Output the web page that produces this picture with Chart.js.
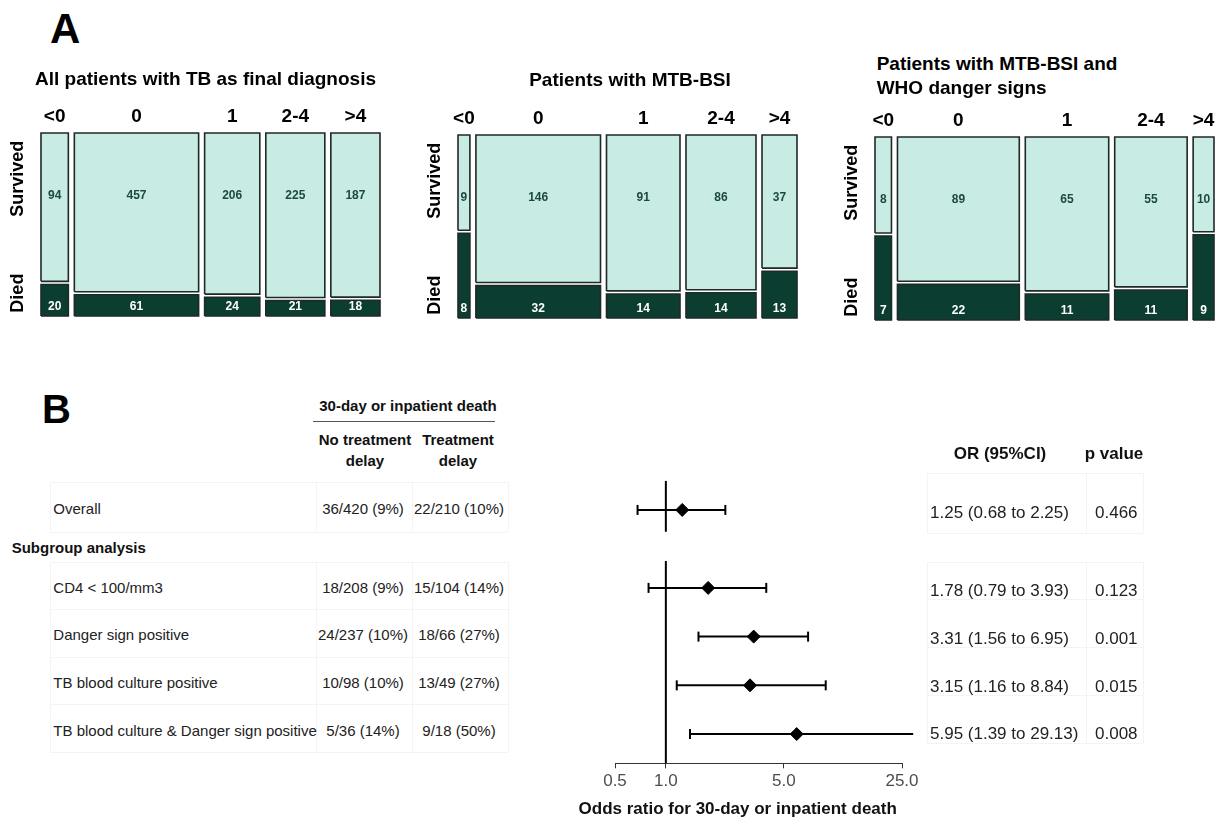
<!DOCTYPE html>
<html>
<head>
<meta charset="utf-8">
<script src="https://cdn.jsdelivr.net/npm/chart.js@4.4.1/dist/chart.umd.min.js"></script>
<style>
  html, body { margin: 0; padding: 0; background: #fff; }
  body { width: 1216px; height: 819px; position: relative; overflow: hidden;
         font-family: "Liberation Sans", Arial, Helvetica, sans-serif; color: #222; }
  canvas { position: absolute; }
  .t { position: absolute; line-height: 1; white-space: nowrap; }
  .rule { position: absolute; }
</style>
</head>
<body>
<canvas id="mosaicAll"></canvas>
<canvas id="mosaicBsi"></canvas>
<canvas id="mosaicDanger"></canvas>
<canvas id="forest"></canvas>
<script>
// ---- panel A data: days of treatment delay vs outcome ----
const delayGroups = ['<0', '0', '1', '2-4', '>4'];
const allSurvived = [94, 457, 206, 225, 187];
const allDied = [20, 61, 24, 21, 18];
const bsiSurvived = [9, 146, 91, 86, 37];
const bsiDied = [8, 32, 14, 14, 13];
const dangerSurvived = [8, 89, 65, 55, 10];
const dangerDied = [7, 22, 11, 11, 9];

// ---- panel B data ----
const subgroups = ['Overall', 'CD4 < 100/mm3', 'Danger sign positive',
  'TB blood culture positive', 'TB blood culture & Danger sign positive'];
const noDelayDeaths = [36, 18, 24, 10, 5];
const noDelayTotal = [420, 208, 237, 98, 36];
const delayDeaths = [22, 15, 18, 13, 9];
const delayTotal = [210, 104, 66, 49, 18];
const oddsRatio = [1.25, 1.78, 3.31, 3.15, 5.95];
const ciLower = [0.68, 0.79, 1.56, 1.16, 1.39];
const ciUpper = [2.25, 3.93, 6.95, 8.84, 29.13];
const pValues = ['0.466', '0.123', '0.001', '0.015', '0.008'];
const orTicks = [0.5, 1, 5, 25];

const FONT = '"Liberation Sans", Arial, Helvetica, sans-serif';
const LIGHT = '#c8ebe3';
const DARK = '#0b3d30';
const EDGE = '#1e2a27';
Chart.defaults.font.family = FONT;

function addText(str, x, y, opt) {
  opt = opt || {};
  const el = document.createElement('div');
  el.className = 't';
  el.textContent = str;
  el.style.left = x + 'px';
  el.style.top = y + 'px';
  el.style.fontSize = (opt.size || 15) + 'px';
  el.style.fontWeight = opt.bold ? 'bold' : 'normal';
  if (opt.color) el.style.color = opt.color;
  const shift = opt.align === 'center' ? '-50%' : (opt.align === 'right' ? '-100%' : '0');
  el.style.transform = 'translate(' + shift + ', -50%)';
  document.body.appendChild(el);
}

function addRule(x, y, w, h, color) {
  const el = document.createElement('div');
  el.className = 'rule';
  el.style.left = x + 'px';
  el.style.top = y + 'px';
  el.style.width = w + 'px';
  el.style.height = h + 'px';
  el.style.background = color;
  document.body.appendChild(el);
}

// column headers, row names and counts of the mosaic plots
const mosaicLabels = {
  id: 'mosaicLabels',
  afterDatasetsDraw(chart, args, opts) {
    const { ctx, chartArea, scales: { x, y } } = chart;
    ctx.save();
    ctx.textAlign = 'center';
    ctx.textBaseline = 'middle';
    opts.cols.forEach(c => {
      const cx = x.getPixelForValue((c.start + c.end) / 2);
      ctx.font = 'bold 19px ' + FONT;
      ctx.fillStyle = '#000';
      ctx.fillText(c.label, cx, chartArea.top - 16);
      ctx.font = 'bold 12px ' + FONT;
      ctx.fillStyle = '#1d4a3e';
      ctx.fillText(String(c.survived), cx, y.getPixelForValue(0.66));
      ctx.fillStyle = '#fff';
      ctx.fillText(String(c.died), cx, y.getPixelForValue(0.05));
    });
    ctx.font = 'bold 18px ' + FONT;
    ctx.fillStyle = '#000';
    [['Survived', 0.75], ['Died', 0.125]].forEach(([t, v]) => {
      ctx.save();
      ctx.translate(chartArea.left - 23, y.getPixelForValue(v));
      ctx.rotate(-Math.PI / 2);
      ctx.fillText(t, 0, 0);
      ctx.restore();
    });
    ctx.restore();
  }
};

function createMosaic(id, plotLeft, plotTop, survived, died) {
  const totals = survived.map((s, i) => s + died[i]);
  const grand = totals.reduce((a, b) => a + b, 0);
  const gap = grand * 6 / 315;   // ~6px between columns
  const vgap = 0.017;            // ~3px between survived and died
  const cols = [];
  let start = 0;
  totals.forEach((n, i) => {
    cols.push({
      start: start, end: start + n,
      split: died[i] / n * (1 - vgap),
      survived: survived[i], died: died[i], label: delayGroups[i]
    });
    start += n + gap;
  });

  const rect = (x0, x1, y0, y1) =>
    [{ x: x0, y: y0 }, { x: x1, y: y0 }, { x: x1, y: y1 }, { x: x0, y: y1 }, { x: x0, y: y0 }];
  const datasets = [];
  cols.forEach(c => {
    datasets.push({ data: rect(c.start, c.end, c.split + vgap, 1), backgroundColor: LIGHT });
    datasets.push({ data: rect(c.start, c.end, 0, c.split), backgroundColor: DARK });
  });
  datasets.forEach(d => {
    d.fill = 'shape';
    d.borderColor = EDGE;
    d.borderWidth = 1.6;
    d.borderJoinStyle = 'miter';
    d.pointRadius = 0;
    d.tension = 0;
    d.clip = false;
  });

  const pad = { left: 45, top: 45, right: 1, bottom: 6 };
  const canvas = document.getElementById(id);
  canvas.width = 339 + pad.left + pad.right;
  canvas.height = 183 + pad.top + pad.bottom;
  canvas.style.left = (plotLeft - pad.left) + 'px';
  canvas.style.top = (plotTop - pad.top) + 'px';

  new Chart(canvas.getContext('2d'), {
    type: 'line',
    data: { datasets: datasets },
    options: {
      responsive: false,
      animation: false,
      events: [],
      layout: { padding: pad },
      scales: {
        x: { type: 'linear', display: false, min: 0, max: start - gap },
        y: { type: 'linear', display: false, min: 0, max: 1 }
      },
      plugins: {
        legend: { display: false },
        tooltip: { enabled: false },
        mosaicLabels: { cols: cols }
      }
    },
    plugins: [mosaicLabels]
  });
}

// ---- Panel A ----
addText('A', 50, 29, { size: 42, bold: true, color: '#000' });
addText('All patients with TB as final diagnosis', 205.5, 78, { size: 19, bold: true, color: '#000', align: 'center' });
addText('Patients with MTB-BSI', 630, 79, { size: 19, bold: true, color: '#000', align: 'center' });
addText('Patients with MTB-BSI and', 876.7, 63, { size: 19, bold: true, color: '#000' });
addText('WHO danger signs', 876.7, 86.7, { size: 19, bold: true, color: '#000' });

createMosaic('mosaicAll', 40.7, 133.3, allSurvived, allDied);
createMosaic('mosaicBsi', 458.3, 135, bsiSurvived, bsiDied);
createMosaic('mosaicDanger', 875.3, 137.3, dangerSurvived, dangerDied);

// ---- Panel B table ----
const GRID = '#f4f4f4';
const leftRowY = [508.3, 586.7, 634, 681.7, 730];
const rightRowY = [512.2, 590, 637.5, 685.5, 733.3];

// faint cell lines of the left table
[481.7, 531.7, 561.7, 609, 656.7, 704.3, 751.7].forEach(y => addRule(50, y, 458, 1, GRID));
[50, 315.7, 412.3, 508].forEach(x => {
  addRule(x, 481.7, 1, 50, GRID);
  addRule(x, 561.7, 1, 190, GRID);
});
// faint cell lines of the right table
[473.3, 533.3, 561.7, 599, 646.7, 695, 742.7].forEach(y => addRule(926.7, y, 216.6, 1, GRID));
[926.7, 1085.7, 1143.3].forEach(x => {
  addRule(x, 473.3, 1, 60, GRID);
  addRule(x, 561.7, 1, 181, GRID);
});

addText('B', 42, 409, { size: 40, bold: true, color: '#000' });
addText('30-day or inpatient death', 408, 405, { size: 15, bold: true, color: '#111', align: 'center' });
addRule(313, 420.5, 182, 1, '#555');
addText('No treatment', 365, 439, { size: 15, bold: true, color: '#111', align: 'center' });
addText('delay', 365, 460, { size: 15, bold: true, color: '#111', align: 'center' });
addText('Treatment', 458, 439, { size: 15, bold: true, color: '#111', align: 'center' });
addText('delay', 458, 460, { size: 15, bold: true, color: '#111', align: 'center' });
addText('Subgroup analysis', 11.7, 546.7, { size: 15, bold: true, color: '#111' });
addText('OR (95%CI)', 1000, 453.3, { size: 17, bold: true, color: '#111', align: 'center' });
addText('p value', 1114, 453.3, { size: 17, bold: true, color: '#111', align: 'center' });

const pct = (d, n) => d + '/' + n + ' (' + Math.round(d / n * 100) + '%)';
subgroups.forEach((name, i) => {
  addText(name, 53.3, leftRowY[i], { size: 15 });
  addText(pct(noDelayDeaths[i], noDelayTotal[i]), 363, leftRowY[i], { size: 15, align: 'center' });
  addText(pct(delayDeaths[i], delayTotal[i]), 459, leftRowY[i], { size: 15, align: 'center' });
  addText(oddsRatio[i].toFixed(2) + ' (' + ciLower[i].toFixed(2) + ' to ' + ciUpper[i].toFixed(2) + ')',
    930, rightRowY[i], { size: 17 });
  addText(pValues[i], 1095, rightRowY[i], { size: 17 });
});
addText('Odds ratio for 30-day or inpatient death', 737.7, 808, { size: 17, bold: true, color: '#111', align: 'center' });

// ---- Panel B forest plot ----
const rowPos = subgroups.map((s, i) => (i === 0 ? 0 : i + 0.6));

const forestSets = [{
  type: 'scatter',
  order: 0,
  data: oddsRatio.map((v, i) => ({ x: v, y: rowPos[i] })),
  pointStyle: 'rectRot',
  pointRadius: 6.5,
  backgroundColor: '#000',
  borderColor: '#000',
  borderWidth: 1,
  clip: false
}];
oddsRatio.forEach((v, i) => {
  forestSets.push({
    type: 'line',
    order: 1,
    data: [{ x: ciLower[i], y: rowPos[i] }, { x: ciUpper[i], y: rowPos[i] }],
    borderColor: '#000',
    borderWidth: 2,
    pointStyle: 'line',
    pointRotation: 90,
    pointRadius: 5,
    pointBorderWidth: 2,
    pointBorderColor: '#000',
    clip: false
  });
});
// line of no effect at OR = 1, broken between overall and subgroups
[[-0.6, 0.45], [1.05, 5.2]].forEach(([a, b]) => {
  forestSets.push({
    type: 'line',
    order: 2,
    data: [{ x: 1, y: a }, { x: 1, y: b }],
    borderColor: '#000',
    borderWidth: 2,
    pointRadius: 0
  });
});

const forestCanvas = document.getElementById('forest');
forestCanvas.width = 400;
forestCanvas.height = 372;
forestCanvas.style.left = '560px';
forestCanvas.style.top = '440px';

new Chart(forestCanvas.getContext('2d'), {
  type: 'scatter',
  data: { datasets: forestSets },
  options: {
    responsive: false,
    animation: false,
    events: [],
    layout: { padding: { left: 55, right: 58, top: 40.7, bottom: 18.7 } },
    scales: {
      x: {
        type: 'logarithmic',
        min: 0.5,
        max: 25,
        afterBuildTicks: s => { s.ticks = orTicks.map(v => ({ value: v })); },
        afterFit: s => { s.height = 30; },
        ticks: {
          callback: v => Number(v).toFixed(1),
          color: '#4d4d4d',
          font: { size: 17 },
          padding: 3,
          maxRotation: 0,
          autoSkip: false
        },
        grid: { drawOnChartArea: false, drawTicks: true, tickLength: 5, color: '#333', lineWidth: 1 },
        border: { display: true, color: '#333', width: 1 }
      },
      y: { type: 'linear', min: -0.6, max: 5.2, reverse: true, display: false }
    },
    plugins: {
      legend: { display: false },
      tooltip: { enabled: false }
    }
  }
});
</script>
</body>
</html>
